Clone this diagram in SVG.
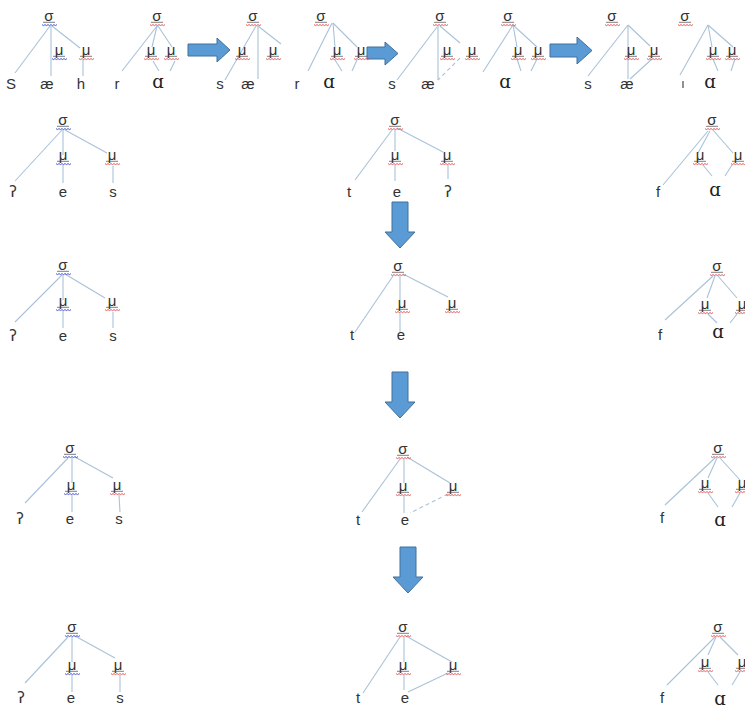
<svg xmlns="http://www.w3.org/2000/svg" xmlns:xlink="http://www.w3.org/1999/xlink" width="745" height="709" viewBox="0 0 745 709">
<style>
.g{font-family:"Liberation Sans",Arial,sans-serif;font-size:15px;fill:#333;text-anchor:middle}
.l{font-family:"Liberation Sans",Arial,sans-serif;font-size:15px;fill:#333;text-anchor:middle}
.a{font-family:"DejaVu Serif",serif;font-size:18px;fill:#222;text-anchor:middle}
.q{font-family:"DejaVu Sans",sans-serif;font-size:15px;fill:#333;text-anchor:middle}
#connectors line{stroke:#a9c2d9;stroke-width:1.1;fill:none}
#connectors line.d{stroke-dasharray:4 3}
.arr{fill:#5b9bd5;stroke:#41719c;stroke-width:1}
</style>
<defs>
<g id="ub"><line x1="-6" y1="1.3" x2="6" y2="1.3" stroke="#445" stroke-width="0.7"/><path d="M-7,3.6 l1.5,1 l1.5,-1 l1.5,1 l1.5,-1 l1.5,1 l1.5,-1 l1.5,1 l1.5,-1 l1.5,1 l1.5,-1" fill="none" stroke="#3347c4" stroke-width="0.9"/></g>
<g id="ur"><line x1="-6" y1="1.3" x2="6" y2="1.3" stroke="#544" stroke-width="0.7"/><path d="M-7,3.6 l1.5,1 l1.5,-1 l1.5,1 l1.5,-1 l1.5,1 l1.5,-1 l1.5,1 l1.5,-1 l1.5,1 l1.5,-1" fill="none" stroke="#e04848" stroke-width="0.9"/></g>
</defs>
<rect width="745" height="709" fill="#fff"/>

<g id="connectors">
<!-- row 1 -->
<line x1="50" y1="26" x2="15" y2="73"/><line x1="51" y1="26" x2="51" y2="76"/><line x1="52" y1="26" x2="80" y2="48"/><line x1="83" y1="60" x2="83" y2="76"/>
<line x1="157" y1="26" x2="122" y2="71"/><line x1="157" y1="26" x2="152" y2="47"/><line x1="158" y1="26" x2="172" y2="47"/><line x1="153" y1="61" x2="159" y2="71"/><line x1="175" y1="61" x2="170" y2="71"/>
<line x1="256" y1="26" x2="225" y2="80"/><line x1="258" y1="26" x2="258" y2="79"/><line x1="258" y1="26" x2="281" y2="44"/>
<line x1="332" y1="23" x2="308" y2="71"/><line x1="333" y1="23" x2="335" y2="47"/><line x1="333" y1="23" x2="357" y2="47"/><line x1="335" y1="60" x2="342" y2="71"/><line x1="357" y1="60" x2="352" y2="71"/>
<line x1="437" y1="27" x2="397" y2="80"/><line x1="438" y1="26" x2="438" y2="80"/><line x1="440" y1="26" x2="460" y2="43"/><line class="d" x1="460" y1="58" x2="438" y2="80"/>
<line x1="513" y1="25" x2="483" y2="72"/><line x1="513" y1="25" x2="517" y2="47"/><line x1="513" y1="25" x2="537" y2="47"/><line x1="517" y1="59" x2="521" y2="71"/><line x1="537" y1="59" x2="531" y2="71"/>
<line x1="628" y1="25" x2="588" y2="76"/><line x1="628" y1="25" x2="628" y2="79"/><line x1="628" y1="25" x2="650" y2="46"/><line x1="652" y1="59" x2="630" y2="79"/>
<line x1="708" y1="25" x2="680" y2="75"/><line x1="708" y1="25" x2="712" y2="47"/><line x1="708" y1="25" x2="733" y2="47"/><line x1="713" y1="59" x2="718" y2="71"/><line x1="735" y1="59" x2="731" y2="71"/>
<!-- row 2 -->
<line x1="62" y1="130" x2="15" y2="181"/><line x1="63" y1="130" x2="63" y2="155"/><line x1="63" y1="165" x2="63" y2="183"/><line x1="65" y1="130" x2="107" y2="153"/><line x1="113" y1="166" x2="113" y2="183"/>
<line x1="392" y1="130" x2="355" y2="180"/><line x1="395" y1="130" x2="395" y2="151"/><line x1="395" y1="165" x2="395" y2="181"/><line x1="397" y1="128" x2="443" y2="152"/><line x1="448" y1="165" x2="448" y2="179"/>
<line x1="708" y1="131" x2="663" y2="185"/><line x1="710" y1="131" x2="698" y2="153"/><line x1="713" y1="130" x2="733" y2="153"/><line x1="703" y1="165" x2="712" y2="176"/><line x1="732" y1="165" x2="725" y2="176"/>
<!-- row 3 -->
<line x1="62" y1="275" x2="15" y2="322"/><line x1="63" y1="275" x2="63" y2="300"/><line x1="63" y1="311" x2="63" y2="328"/><line x1="65" y1="274" x2="105" y2="298"/><line x1="113" y1="312" x2="113" y2="328"/>
<line x1="393" y1="276" x2="355" y2="332"/><line x1="400" y1="276" x2="400" y2="300"/><line x1="400" y1="313" x2="400" y2="332"/><line x1="403" y1="274" x2="448" y2="297"/>
<line x1="713" y1="276" x2="665" y2="320"/><line x1="715" y1="276" x2="707" y2="298"/><line x1="718" y1="276" x2="737" y2="298"/><line x1="708" y1="314" x2="717" y2="323"/><line x1="737" y1="314" x2="730" y2="323"/>
<!-- row 4 -->
<line x1="68" y1="458" x2="25" y2="503"/><line x1="72" y1="458" x2="72" y2="483"/><line x1="72" y1="495" x2="72" y2="512"/><line x1="75" y1="457" x2="113" y2="478"/><line x1="119" y1="495" x2="120" y2="512"/>
<line x1="400" y1="459" x2="362" y2="512"/><line x1="404" y1="459" x2="404" y2="483"/><line x1="404" y1="496" x2="404" y2="513"/><line x1="407" y1="457" x2="450" y2="483"/><line class="d" x1="448" y1="494" x2="410" y2="513"/>
<line x1="715" y1="458" x2="665" y2="505"/><line x1="717" y1="458" x2="708" y2="478"/><line x1="720" y1="458" x2="740" y2="480"/><line x1="708" y1="493" x2="718" y2="507"/><line x1="740" y1="493" x2="732" y2="507"/>
<!-- row 5 -->
<line x1="68" y1="637" x2="25" y2="683"/><line x1="72" y1="637" x2="72" y2="662"/><line x1="72" y1="675" x2="72" y2="692"/><line x1="75" y1="636" x2="115" y2="658"/><line x1="120" y1="675" x2="120" y2="692"/>
<line x1="400" y1="637" x2="363" y2="693"/><line x1="404" y1="637" x2="404" y2="662"/><line x1="404" y1="675" x2="404" y2="690"/><line x1="406" y1="636" x2="452" y2="662"/><line x1="448" y1="673" x2="408" y2="692"/>
<line x1="715" y1="637" x2="667" y2="685"/><line x1="716" y1="637" x2="708" y2="655"/><line x1="720" y1="637" x2="738" y2="655"/><line x1="708" y1="672" x2="718" y2="685"/><line x1="740" y1="672" x2="732" y2="685"/>
</g>

<g id="arrows">
<path class="arr" d="M188,44 H217 V38 L230,50 L217,62 V56 H188 Z"/>
<path class="arr" d="M367,47 H385 V42 L398,53.5 L385,65 V59 H367 Z"/>
<path class="arr" d="M550,44 H577 V37 L592,50.5 L577,64 V57 H550 Z"/>
<path class="arr" d="M392,202 V232 H385 L400,248 L415,232 H408 V202 Z"/>
<path class="arr" d="M392,372 V402 H385 L400,418 L415,402 H408 V372 Z"/>
<path class="arr" d="M400,547 V577 H393 L408,593 L423,577 H416 V547 Z"/>
</g>

<!-- row 1 -->
<g id="r1t1">
<g id="r1t1-sigma"><text class="g" x="49" y="21">σ</text><use href="#ub" x="49" y="21"/></g>
<g id="r1t1-mu1"><text class="g" x="59" y="55">μ</text><use href="#ub" x="59" y="55"/></g>
<g id="r1t1-mu2"><text class="g" x="86" y="55">μ</text><use href="#ur" x="86" y="55"/></g>
<g id="r1t1-S"><text class="l" x="11" y="89">S</text></g>
<g id="r1t1-ae"><text class="l" x="47" y="89">æ</text></g>
<g id="r1t1-h"><text class="l" x="81" y="89">h</text></g>
</g>
<g id="r1t2">
<g id="r1t2-sigma"><text class="g" x="157" y="21">σ</text><use href="#ur" x="157" y="21"/></g>
<g id="r1t2-mu1"><text class="g" x="151" y="55">μ</text><use href="#ur" x="151" y="55"/></g>
<g id="r1t2-mu2"><text class="g" x="171" y="55">μ</text><use href="#ur" x="171" y="55"/></g>
<g id="r1t2-r"><text class="l" x="117" y="89">r</text></g>
<g id="r1t2-a"><text class="a" x="158" y="88">ɑ</text></g>
</g>
<g id="r1t3">
<g id="r1t3-sigma"><text class="g" x="253" y="21">σ</text><use href="#ur" x="253" y="21"/></g>
<g id="r1t3-mu1"><text class="g" x="242" y="55">μ</text><use href="#ur" x="242" y="55"/></g>
<g id="r1t3-mu2"><text class="g" x="273" y="55">μ</text><use href="#ur" x="273" y="55"/></g>
<g id="r1t3-s"><text class="l" x="220" y="89">s</text></g>
<g id="r1t3-ae"><text class="l" x="248" y="89">æ</text></g>
</g>
<g id="r1t4">
<g id="r1t4-sigma"><text class="g" x="321" y="21">σ</text><use href="#ur" x="321" y="21"/></g>
<g id="r1t4-mu1"><text class="g" x="337" y="55">μ</text><use href="#ur" x="337" y="55"/></g>
<g id="r1t4-mu2"><text class="g" x="361" y="55">μ</text><use href="#ur" x="361" y="55"/></g>
<g id="r1t4-r"><text class="l" x="297" y="89">r</text></g>
<g id="r1t4-a"><text class="a" x="329" y="88">ɑ</text></g>
</g>
<g id="r1t5">
<g id="r1t5-sigma"><text class="g" x="440" y="21">σ</text><use href="#ur" x="440" y="21"/></g>
<g id="r1t5-mu1"><text class="g" x="447" y="55">μ</text><use href="#ur" x="447" y="55"/></g>
<g id="r1t5-mu2"><text class="g" x="472" y="55">μ</text><use href="#ur" x="472" y="55"/></g>
<g id="r1t5-s"><text class="l" x="392" y="89">s</text></g>
<g id="r1t5-ae"><text class="l" x="428" y="89">æ</text></g>
</g>
<g id="r1t6">
<g id="r1t6-sigma"><text class="g" x="508" y="21">σ</text><use href="#ur" x="508" y="21"/></g>
<g id="r1t6-mu1"><text class="g" x="518" y="55">μ</text><use href="#ur" x="518" y="55"/></g>
<g id="r1t6-mu2"><text class="g" x="538" y="55">μ</text><use href="#ur" x="538" y="55"/></g>
<g id="r1t6-a"><text class="a" x="505" y="88">ɑ</text></g>
</g>
<g id="r1t7">
<g id="r1t7-sigma"><text class="g" x="612" y="21">σ</text><use href="#ur" x="612" y="21"/></g>
<g id="r1t7-mu1"><text class="g" x="631" y="55">μ</text><use href="#ur" x="631" y="55"/></g>
<g id="r1t7-mu2"><text class="g" x="654" y="55">μ</text><use href="#ur" x="654" y="55"/></g>
<g id="r1t7-s"><text class="l" x="588" y="89">s</text></g>
<g id="r1t7-ae"><text class="l" x="627" y="89">æ</text></g>
</g>
<g id="r1t8">
<g id="r1t8-sigma"><text class="g" x="685" y="21">σ</text><use href="#ur" x="685" y="21"/></g>
<g id="r1t8-mu1"><text class="g" x="713" y="55">μ</text><use href="#ur" x="713" y="55"/></g>
<g id="r1t8-mu2"><text class="g" x="732" y="55">μ</text><use href="#ur" x="732" y="55"/></g>
<g id="r1t8-mark"><line x1="683" y1="81" x2="683" y2="88" stroke="#555" stroke-width="1.3"/></g>
<g id="r1t8-a"><text class="a" x="710" y="88">ɑ</text></g>
</g>

<!-- row 2 -->
<g id="r2L">
<g id="r2L-sigma"><text class="g" x="63" y="125">σ</text><use href="#ub" x="63" y="125"/></g>
<g id="r2L-mu1"><text class="g" x="63" y="160">μ</text><use href="#ub" x="63" y="160"/></g>
<g id="r2L-mu2"><text class="g" x="112" y="160">μ</text><use href="#ur" x="112" y="160"/></g>
<g id="r2L-q"><text class="q" x="13" y="197">ʔ</text></g>
<g id="r2L-e"><text class="l" x="63" y="197">e</text></g>
<g id="r2L-s"><text class="l" x="113" y="197">s</text></g>
</g>
<g id="r2M">
<g id="r2M-sigma"><text class="g" x="395" y="125">σ</text><use href="#ur" x="395" y="125"/></g>
<g id="r2M-mu1"><text class="g" x="395" y="160">μ</text><use href="#ur" x="395" y="160"/></g>
<g id="r2M-mu2"><text class="g" x="447" y="160">μ</text><use href="#ur" x="447" y="160"/></g>
<g id="r2M-t"><text class="l" x="349" y="197">t</text></g>
<g id="r2M-e"><text class="l" x="397" y="197">e</text></g>
<g id="r2M-q"><text class="q" x="448" y="197">ʔ</text></g>
</g>
<g id="r2R">
<g id="r2R-sigma"><text class="g" x="712" y="125">σ</text><use href="#ur" x="712" y="125"/></g>
<g id="r2R-mu1"><text class="g" x="700" y="160">μ</text><use href="#ur" x="700" y="160"/></g>
<g id="r2R-mu2"><text class="g" x="738" y="160">μ</text><use href="#ur" x="738" y="160"/></g>
<g id="r2R-f"><text class="l" x="658" y="197">f</text></g>
<g id="r2R-a"><text class="a" x="715" y="196">ɑ</text></g>
</g>

<!-- row 3 -->
<g id="r3L">
<g id="r3L-sigma"><text class="g" x="63" y="270">σ</text><use href="#ub" x="63" y="270"/></g>
<g id="r3L-mu1"><text class="g" x="63" y="306">μ</text><use href="#ub" x="63" y="306"/></g>
<g id="r3L-mu2"><text class="g" x="112" y="306">μ</text><use href="#ur" x="112" y="306"/></g>
<g id="r3L-q"><text class="q" x="13" y="341">ʔ</text></g>
<g id="r3L-e"><text class="l" x="63" y="341">e</text></g>
<g id="r3L-s"><text class="l" x="113" y="341">s</text></g>
</g>
<g id="r3M">
<g id="r3M-sigma"><text class="g" x="398" y="271">σ</text><use href="#ur" x="398" y="271"/></g>
<g id="r3M-mu1"><text class="g" x="402" y="308">μ</text><use href="#ur" x="402" y="308"/></g>
<g id="r3M-mu2"><text class="g" x="452" y="308">μ</text><use href="#ur" x="452" y="308"/></g>
<g id="r3M-t"><text class="l" x="352" y="340">t</text></g>
<g id="r3M-e"><text class="l" x="401" y="340">e</text></g>
</g>
<g id="r3R">
<g id="r3R-sigma"><text class="g" x="717" y="271">σ</text><use href="#ur" x="717" y="271"/></g>
<g id="r3R-mu1"><text class="g" x="705" y="309">μ</text><use href="#ur" x="705" y="309"/></g>
<g id="r3R-mu2"><text class="g" x="742" y="309">μ</text><use href="#ur" x="742" y="309"/></g>
<g id="r3R-f"><text class="l" x="660" y="340">f</text></g>
<g id="r3R-a"><text class="a" x="718" y="338">ɑ</text></g>
</g>

<!-- row 4 -->
<g id="r4L">
<g id="r4L-sigma"><text class="g" x="70" y="453">σ</text><use href="#ub" x="70" y="453"/></g>
<g id="r4L-mu1"><text class="g" x="71" y="490">μ</text><use href="#ub" x="71" y="490"/></g>
<g id="r4L-mu2"><text class="g" x="117" y="490">μ</text><use href="#ur" x="117" y="490"/></g>
<g id="r4L-q"><text class="q" x="20" y="524">ʔ</text></g>
<g id="r4L-e"><text class="l" x="70" y="524">e</text></g>
<g id="r4L-s"><text class="l" x="119" y="524">s</text></g>
</g>
<g id="r4M">
<g id="r4M-sigma"><text class="g" x="403" y="454">σ</text><use href="#ur" x="403" y="454"/></g>
<g id="r4M-mu1"><text class="g" x="403" y="491">μ</text><use href="#ur" x="403" y="491"/></g>
<g id="r4M-mu2"><text class="g" x="453" y="491">μ</text><use href="#ur" x="453" y="491"/></g>
<g id="r4M-t"><text class="l" x="358" y="525">t</text></g>
<g id="r4M-e"><text class="l" x="405" y="525">e</text></g>
</g>
<g id="r4R">
<g id="r4R-sigma"><text class="g" x="718" y="453">σ</text><use href="#ur" x="718" y="453"/></g>
<g id="r4R-mu1"><text class="g" x="705" y="488">μ</text><use href="#ur" x="705" y="488"/></g>
<g id="r4R-mu2"><text class="g" x="742" y="488">μ</text><use href="#ur" x="742" y="488"/></g>
<g id="r4R-f"><text class="l" x="662" y="523">f</text></g>
<g id="r4R-a"><text class="a" x="720" y="526">ɑ</text></g>
</g>

<!-- row 5 -->
<g id="r5L">
<g id="r5L-sigma"><text class="g" x="72" y="632">σ</text><use href="#ub" x="72" y="632"/></g>
<g id="r5L-mu1"><text class="g" x="72" y="670">μ</text><use href="#ub" x="72" y="670"/></g>
<g id="r5L-mu2"><text class="g" x="118" y="670">μ</text><use href="#ur" x="118" y="670"/></g>
<g id="r5L-q"><text class="q" x="21" y="703">ʔ</text></g>
<g id="r5L-e"><text class="l" x="71" y="703">e</text></g>
<g id="r5L-s"><text class="l" x="120" y="703">s</text></g>
</g>
<g id="r5M">
<g id="r5M-sigma"><text class="g" x="403" y="632">σ</text><use href="#ur" x="403" y="632"/></g>
<g id="r5M-mu1"><text class="g" x="403" y="670">μ</text><use href="#ur" x="403" y="670"/></g>
<g id="r5M-mu2"><text class="g" x="453" y="670">μ</text><use href="#ur" x="453" y="670"/></g>
<g id="r5M-t"><text class="l" x="358" y="703">t</text></g>
<g id="r5M-e"><text class="l" x="405" y="703">e</text></g>
</g>
<g id="r5R">
<g id="r5R-sigma"><text class="g" x="718" y="632">σ</text><use href="#ur" x="718" y="632"/></g>
<g id="r5R-mu1"><text class="g" x="705" y="667">μ</text><use href="#ur" x="705" y="667"/></g>
<g id="r5R-mu2"><text class="g" x="742" y="667">μ</text><use href="#ur" x="742" y="667"/></g>
<g id="r5R-f"><text class="l" x="662" y="703">f</text></g>
<g id="r5R-a"><text class="a" x="720" y="705">ɑ</text></g>
</g>
</svg>
